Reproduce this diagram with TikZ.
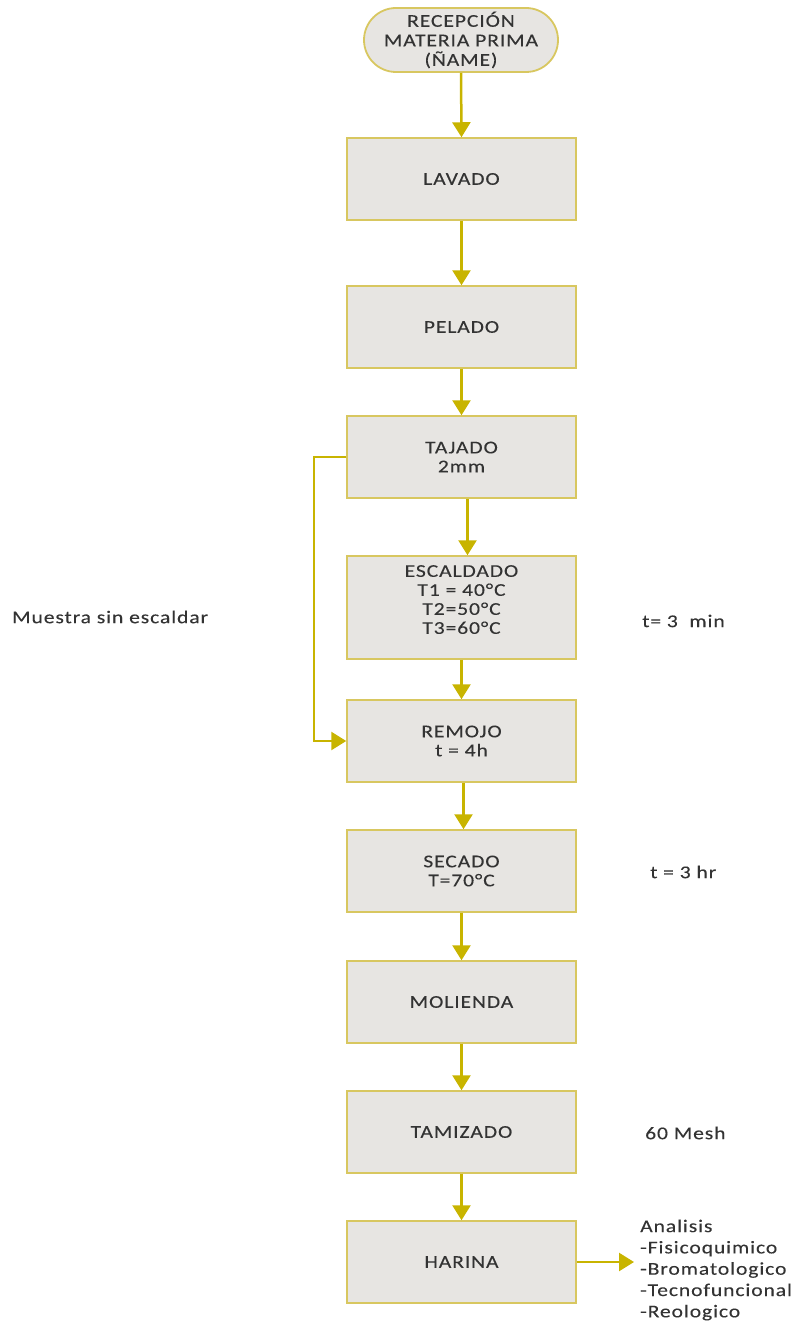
\documentclass[tikz,border=0pt]{standalone}
\usepackage{fontspec}
\setmainfont{Carlito}[FakeStretch=1.2, LetterSpace=5, FakeBold=0.12]
\usetikzlibrary{arrows.meta,shapes.misc}
\definecolor{boxfill}{HTML}{E7E5E2}
\definecolor{boxline}{HTML}{D8C760}
\definecolor{arr}{HTML}{C8B400}
\definecolor{txt}{HTML}{333333}
\tikzset{
  stepbox/.style={draw=boxline, line width=1.5pt, fill=boxfill, minimum width=229pt, minimum height=82pt, inner sep=0pt, align=center, text=txt, font=\fontsize{18}{19}\selectfont},
  startbox/.style={draw=boxline, line width=1.8pt, fill=boxfill, rounded rectangle, minimum width=194pt, minimum height=64pt, inner sep=0pt, align=center, text=txt, font=\fontsize{18}{19.5}\selectfont},
  flow/.style={draw=arr, line width=2.5pt, -{Triangle[length=15pt,width=18pt]}},
  note/.style={text=txt, font=\fontsize{18}{21.3}\selectfont, inner sep=0pt},
}
\begin{document}
\begin{tikzpicture}[x=1pt,y=-1pt]
\useasboundingbox (0,0) rectangle (808,1324);
\node[startbox] (rec) at (461,40) {RECEPCIÓN\\MATERIA PRIMA\\(ÑAME)};
\node[stepbox] (lav) at (461.5,179) {LAVADO};
\node[stepbox] (pel) at (461.5,327) {PELADO};
\node[stepbox] (taj) at (461.5,457) {TAJADO\\2mm};
\node[stepbox, minimum height=103pt] (esc) at (461.5,607.5) {ESCALDADO\\T1 = 40°C\\T2=50°C\\T3=60°C\\[-3pt]};
\node[stepbox] (rem) at (461.5,741) {REMOJO\\t = 4h};
\node[stepbox] (sec) at (461.5,871) {SECADO\\T=70°C};
\node[stepbox] (mol) at (461.5,1002) {MOLIENDA};
\node[stepbox] (tam) at (461.5,1132) {TAMIZADO};
\node[stepbox] (har) at (461.5,1262) {HARINA};

\node[note, anchor=west] (mse) at (12,617) {Muestra sin escaldar};
\node[note, anchor=west] (t3m) at (642,621) {t= 3~~min};
\node[note, anchor=west] (t3h) at (650,872) {t = 3 hr};
\node[note, anchor=west] (mesh) at (645,1133) {60 Mesh};
\node[note, anchor=west, align=left] (ana) at (640,1270) {Analisis\\-Fisicoquimico\\-Bromatologico\\-Tecnofuncional\\-Reologico};

\draw[flow] (rec.south) -- (lav.north);
\draw[flow] (lav.south) -- (pel.north);
\draw[flow] (pel.south) -- (taj.north);
\draw[flow] ([xshift=6pt]taj.south) -- ([xshift=6pt]esc.north);
\draw[flow] (esc.south) -- (rem.north);
\draw[flow] ([xshift=2pt]rem.south) -- ([xshift=2pt]sec.north);
\draw[flow] (sec.south) -- (mol.north);
\draw[flow] (mol.south) -- (tam.north);
\draw[flow] (tam.south) -- (har.north);
\draw[flow] (taj.west) -- (314,457) -- (314,741) -- (rem.west);
\draw[flow] (har.east) -- ([xshift=-6pt]ana.west |- har.east);
\end{tikzpicture}
\end{document}
